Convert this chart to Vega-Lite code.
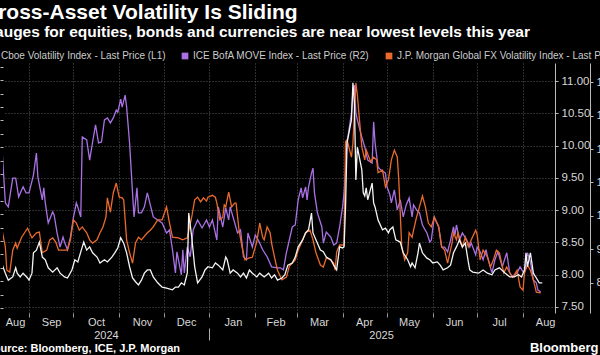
{
  "$schema": "https://vega.github.io/schema/vega-lite/v6.json",
  "width": 552,
  "height": 250,
  "autosize": {"type": "none"},
  "padding": {"left": 3, "top": 63, "right": 45, "bottom": 42},
  "background": "#000000",
  "title": {
    "text": "Cross-Asset Volatility Is Sliding",
    "subtitle": "Gauges for equities, bonds and currencies are near lowest levels this year",
    "anchor": "start",
    "frame": "group",
    "dx": -20,
    "offset": 11,
    "font": "Liberation Sans",
    "fontSize": 21,
    "fontWeight": "bold",
    "color": "#ffffff",
    "subtitleFont": "Liberation Sans",
    "subtitleFontSize": 15.5,
    "subtitleFontWeight": "bold",
    "subtitleColor": "#ffffff",
    "subtitlePadding": 2
  },
  "datasets": {
    "vix": [
      {"date": "2024-08-14", "value": 18.0}, {"date": "2024-08-16", "value": 16.5}, {"date": "2024-08-18", "value": 15.2},
      {"date": "2024-08-21", "value": 15.8}, {"date": "2024-08-23", "value": 17.5}, {"date": "2024-08-24", "value": 16.5},
      {"date": "2024-08-26", "value": 15.8}, {"date": "2024-08-28", "value": 16.5}, {"date": "2024-08-31", "value": 15.6},
      {"date": "2024-09-01", "value": 15.2}, {"date": "2024-09-03", "value": 16.5}, {"date": "2024-09-04", "value": 20.3},
      {"date": "2024-09-06", "value": 20.8}, {"date": "2024-09-08", "value": 22.3}, {"date": "2024-09-10", "value": 19.5},
      {"date": "2024-09-12", "value": 19.0}, {"date": "2024-09-14", "value": 17.5}, {"date": "2024-09-17", "value": 16.7},
      {"date": "2024-09-20", "value": 17.5}, {"date": "2024-09-22", "value": 16.5}, {"date": "2024-09-25", "value": 15.8},
      {"date": "2024-09-27", "value": 15.6}, {"date": "2024-09-30", "value": 17.1}, {"date": "2024-10-02", "value": 19.0},
      {"date": "2024-10-04", "value": 18.6}, {"date": "2024-10-07", "value": 21.4}, {"date": "2024-10-08", "value": 22.3},
      {"date": "2024-10-10", "value": 20.8}, {"date": "2024-10-12", "value": 21.4}, {"date": "2024-10-14", "value": 20.3},
      {"date": "2024-10-17", "value": 19.5}, {"date": "2024-10-19", "value": 18.4}, {"date": "2024-10-22", "value": 19.0},
      {"date": "2024-10-24", "value": 18.6}, {"date": "2024-10-27", "value": 19.5}, {"date": "2024-10-29", "value": 20.3},
      {"date": "2024-10-31", "value": 21.2}, {"date": "2024-11-02", "value": 23.1}, {"date": "2024-11-04", "value": 22.1},
      {"date": "2024-11-06", "value": 20.3}, {"date": "2024-11-08", "value": 17.7}, {"date": "2024-11-10", "value": 15.6},
      {"date": "2024-11-12", "value": 14.9}, {"date": "2024-11-14", "value": 14.3}, {"date": "2024-11-16", "value": 15.2},
      {"date": "2024-11-18", "value": 16.5}, {"date": "2024-11-20", "value": 17.1}, {"date": "2024-11-22", "value": 17.1},
      {"date": "2024-11-24", "value": 15.8}, {"date": "2024-11-27", "value": 14.7}, {"date": "2024-11-30", "value": 13.9},
      {"date": "2024-12-03", "value": 13.7}, {"date": "2024-12-07", "value": 13.4}, {"date": "2024-12-09", "value": 13.9},
      {"date": "2024-12-11", "value": 13.9}, {"date": "2024-12-13", "value": 14.7}, {"date": "2024-12-15", "value": 14.3},
      {"date": "2024-12-17", "value": 16.5}, {"date": "2024-12-18", "value": 27.7}, {"date": "2024-12-20", "value": 23.3},
      {"date": "2024-12-22", "value": 17.7}, {"date": "2024-12-24", "value": 14.7}, {"date": "2024-12-27", "value": 15.8},
      {"date": "2024-12-29", "value": 17.1}, {"date": "2024-12-31", "value": 17.7}, {"date": "2025-01-03", "value": 17.5},
      {"date": "2025-01-05", "value": 18.4}, {"date": "2025-01-07", "value": 18.0}, {"date": "2025-01-10", "value": 17.1},
      {"date": "2025-01-12", "value": 19.5}, {"date": "2025-01-13", "value": 19.0}, {"date": "2025-01-15", "value": 16.5},
      {"date": "2025-01-17", "value": 17.1}, {"date": "2025-01-20", "value": 16.5}, {"date": "2025-01-22", "value": 15.8},
      {"date": "2025-01-24", "value": 16.5}, {"date": "2025-01-26", "value": 15.6}, {"date": "2025-01-28", "value": 17.1},
      {"date": "2025-01-30", "value": 16.5}, {"date": "2025-02-02", "value": 15.8}, {"date": "2025-02-04", "value": 16.5},
      {"date": "2025-02-07", "value": 15.8}, {"date": "2025-02-10", "value": 16.5}, {"date": "2025-02-12", "value": 15.6},
      {"date": "2025-02-14", "value": 16.2}, {"date": "2025-02-16", "value": 15.2}, {"date": "2025-02-19", "value": 15.6},
      {"date": "2025-02-21", "value": 16.2}, {"date": "2025-02-23", "value": 18.0}, {"date": "2025-02-26", "value": 18.4},
      {"date": "2025-02-28", "value": 19.5}, {"date": "2025-03-02", "value": 21.4}, {"date": "2025-03-05", "value": 22.7},
      {"date": "2025-03-07", "value": 24.0}, {"date": "2025-03-09", "value": 24.6}, {"date": "2025-03-11", "value": 27.7},
      {"date": "2025-03-12", "value": 24.0}, {"date": "2025-03-15", "value": 22.1}, {"date": "2025-03-17", "value": 20.8},
      {"date": "2025-03-19", "value": 20.5}, {"date": "2025-03-21", "value": 19.5}, {"date": "2025-03-24", "value": 19.0},
      {"date": "2025-03-26", "value": 18.0}, {"date": "2025-03-28", "value": 17.1}, {"date": "2025-03-30", "value": 21.4},
      {"date": "2025-04-01", "value": 21.2}, {"date": "2025-04-02", "value": 21.4}, {"date": "2025-04-03", "value": 28.8},
      {"date": "2025-04-04", "value": 40.8}, {"date": "2025-04-07", "value": 45.1}, {"date": "2025-04-08", "value": 52.0},
      {"date": "2025-04-09", "value": 48.2}, {"date": "2025-04-10", "value": 33.9}, {"date": "2025-04-11", "value": 40.0},
      {"date": "2025-04-14", "value": 35.8}, {"date": "2025-04-15", "value": 31.5}, {"date": "2025-04-16", "value": 30.9},
      {"date": "2025-04-17", "value": 32.4}, {"date": "2025-04-18", "value": 30.2}, {"date": "2025-04-21", "value": 33.3},
      {"date": "2025-04-22", "value": 29.6}, {"date": "2025-04-23", "value": 28.8}, {"date": "2025-04-25", "value": 26.4},
      {"date": "2025-04-28", "value": 24.6}, {"date": "2025-04-30", "value": 24.9}, {"date": "2025-05-02", "value": 24.0},
      {"date": "2025-05-03", "value": 24.6}, {"date": "2025-05-05", "value": 25.1}, {"date": "2025-05-07", "value": 22.7},
      {"date": "2025-05-10", "value": 22.3}, {"date": "2025-05-12", "value": 20.3}, {"date": "2025-05-15", "value": 19.0},
      {"date": "2025-05-17", "value": 17.7}, {"date": "2025-05-18", "value": 18.4}, {"date": "2025-05-20", "value": 17.5},
      {"date": "2025-05-22", "value": 20.3}, {"date": "2025-05-23", "value": 22.1}, {"date": "2025-05-25", "value": 20.3},
      {"date": "2025-05-28", "value": 19.3}, {"date": "2025-05-30", "value": 19.0}, {"date": "2025-06-01", "value": 18.4},
      {"date": "2025-06-04", "value": 18.6}, {"date": "2025-06-06", "value": 18.0}, {"date": "2025-06-08", "value": 17.1},
      {"date": "2025-06-11", "value": 17.5}, {"date": "2025-06-13", "value": 18.0}, {"date": "2025-06-15", "value": 20.3},
      {"date": "2025-06-17", "value": 21.4}, {"date": "2025-06-19", "value": 22.7}, {"date": "2025-06-21", "value": 21.4},
      {"date": "2025-06-23", "value": 22.1}, {"date": "2025-06-25", "value": 18.6}, {"date": "2025-06-26", "value": 17.1},
      {"date": "2025-06-28", "value": 16.7}, {"date": "2025-07-02", "value": 16.5}, {"date": "2025-07-05", "value": 17.1},
      {"date": "2025-07-08", "value": 16.5}, {"date": "2025-07-11", "value": 16.2}, {"date": "2025-07-13", "value": 17.1},
      {"date": "2025-07-16", "value": 17.5}, {"date": "2025-07-20", "value": 16.5}, {"date": "2025-07-23", "value": 15.8},
      {"date": "2025-07-26", "value": 15.8}, {"date": "2025-07-29", "value": 16.2}, {"date": "2025-07-31", "value": 15.8},
      {"date": "2025-08-02", "value": 17.1}, {"date": "2025-08-03", "value": 20.3}, {"date": "2025-08-04", "value": 17.7},
      {"date": "2025-08-06", "value": 20.3}, {"date": "2025-08-08", "value": 16.5}, {"date": "2025-08-10", "value": 15.6},
      {"date": "2025-08-12", "value": 14.7}, {"date": "2025-08-14", "value": 14.7}
    ],
    "move": [
      {"date": "2024-08-14", "value": 118.2}, {"date": "2024-08-16", "value": 103.9}, {"date": "2024-08-18", "value": 102.7},
      {"date": "2024-08-21", "value": 111.3}, {"date": "2024-08-23", "value": 111.3}, {"date": "2024-08-25", "value": 105.7},
      {"date": "2024-08-28", "value": 108.7}, {"date": "2024-08-30", "value": 106.9}, {"date": "2024-09-01", "value": 106.9},
      {"date": "2024-09-04", "value": 112.2}, {"date": "2024-09-06", "value": 118.8}, {"date": "2024-09-07", "value": 111.6},
      {"date": "2024-09-10", "value": 104.8}, {"date": "2024-09-11", "value": 108.4}, {"date": "2024-09-12", "value": 103.9},
      {"date": "2024-09-14", "value": 97.9}, {"date": "2024-09-17", "value": 101.2}, {"date": "2024-09-18", "value": 100.3},
      {"date": "2024-09-20", "value": 94.9}, {"date": "2024-09-22", "value": 90.7}, {"date": "2024-09-24", "value": 93.7},
      {"date": "2024-09-25", "value": 92.2}, {"date": "2024-09-27", "value": 89.9}, {"date": "2024-09-29", "value": 93.7},
      {"date": "2024-10-01", "value": 99.4}, {"date": "2024-10-03", "value": 103.9}, {"date": "2024-10-04", "value": 102.7},
      {"date": "2024-10-06", "value": 99.7}, {"date": "2024-10-07", "value": 123.6}, {"date": "2024-10-10", "value": 122.7},
      {"date": "2024-10-12", "value": 116.7}, {"date": "2024-10-14", "value": 122.1}, {"date": "2024-10-16", "value": 127.2},
      {"date": "2024-10-18", "value": 121.8}, {"date": "2024-10-20", "value": 122.1}, {"date": "2024-10-22", "value": 128.7},
      {"date": "2024-10-24", "value": 129.3}, {"date": "2024-10-26", "value": 127.8}, {"date": "2024-10-28", "value": 129.3},
      {"date": "2024-10-30", "value": 131.6}, {"date": "2024-10-31", "value": 131.0}, {"date": "2024-11-02", "value": 134.9},
      {"date": "2024-11-03", "value": 132.5}, {"date": "2024-11-05", "value": 136.1}, {"date": "2024-11-06", "value": 132.5},
      {"date": "2024-11-08", "value": 121.8}, {"date": "2024-11-10", "value": 106.9}, {"date": "2024-11-11", "value": 99.7},
      {"date": "2024-11-13", "value": 108.4}, {"date": "2024-11-14", "value": 100.9}, {"date": "2024-11-16", "value": 100.9},
      {"date": "2024-11-18", "value": 102.7}, {"date": "2024-11-20", "value": 106.9}, {"date": "2024-11-24", "value": 99.7},
      {"date": "2024-11-27", "value": 98.8}, {"date": "2024-11-30", "value": 97.9}, {"date": "2024-12-03", "value": 94.9},
      {"date": "2024-12-05", "value": 95.8}, {"date": "2024-12-07", "value": 89.9}, {"date": "2024-12-09", "value": 83.0},
      {"date": "2024-12-10", "value": 89.3}, {"date": "2024-12-13", "value": 82.4}, {"date": "2024-12-14", "value": 89.9},
      {"date": "2024-12-15", "value": 83.0}, {"date": "2024-12-17", "value": 90.7}, {"date": "2024-12-19", "value": 87.8},
      {"date": "2024-12-21", "value": 95.8}, {"date": "2024-12-24", "value": 98.8}, {"date": "2024-12-27", "value": 96.4},
      {"date": "2024-12-30", "value": 98.8}, {"date": "2025-01-01", "value": 96.7}, {"date": "2025-01-03", "value": 98.8},
      {"date": "2025-01-06", "value": 92.8}, {"date": "2025-01-07", "value": 102.7}, {"date": "2025-01-10", "value": 96.7},
      {"date": "2025-01-12", "value": 102.4}, {"date": "2025-01-14", "value": 98.8}, {"date": "2025-01-15", "value": 102.7},
      {"date": "2025-01-20", "value": 94.9}, {"date": "2025-01-22", "value": 95.8}, {"date": "2025-01-24", "value": 87.8},
      {"date": "2025-01-26", "value": 86.9}, {"date": "2025-01-27", "value": 94.9}, {"date": "2025-01-30", "value": 90.7},
      {"date": "2025-02-01", "value": 94.3}, {"date": "2025-02-03", "value": 92.8}, {"date": "2025-02-06", "value": 89.9},
      {"date": "2025-02-09", "value": 87.8}, {"date": "2025-02-12", "value": 84.8}, {"date": "2025-02-16", "value": 84.5},
      {"date": "2025-02-18", "value": 84.5}, {"date": "2025-02-20", "value": 83.9}, {"date": "2025-02-22", "value": 89.0},
      {"date": "2025-02-26", "value": 96.7}, {"date": "2025-02-28", "value": 97.3}, {"date": "2025-03-02", "value": 104.8},
      {"date": "2025-03-04", "value": 108.4}, {"date": "2025-03-05", "value": 105.4}, {"date": "2025-03-07", "value": 108.7},
      {"date": "2025-03-08", "value": 104.8}, {"date": "2025-03-09", "value": 108.7}, {"date": "2025-03-11", "value": 112.8},
      {"date": "2025-03-12", "value": 114.3}, {"date": "2025-03-13", "value": 106.9}, {"date": "2025-03-15", "value": 100.9},
      {"date": "2025-03-18", "value": 96.7}, {"date": "2025-03-19", "value": 91.9}, {"date": "2025-03-21", "value": 95.2},
      {"date": "2025-03-24", "value": 93.7}, {"date": "2025-03-26", "value": 91.3}, {"date": "2025-03-28", "value": 91.9},
      {"date": "2025-03-30", "value": 96.7}, {"date": "2025-04-01", "value": 102.7}, {"date": "2025-04-02", "value": 106.9},
      {"date": "2025-04-03", "value": 112.8}, {"date": "2025-04-04", "value": 121.8}, {"date": "2025-04-07", "value": 130.7},
      {"date": "2025-04-08", "value": 136.7}, {"date": "2025-04-09", "value": 139.1}, {"date": "2025-04-10", "value": 130.7},
      {"date": "2025-04-11", "value": 128.7}, {"date": "2025-04-14", "value": 123.6}, {"date": "2025-04-16", "value": 120.6},
      {"date": "2025-04-18", "value": 116.7}, {"date": "2025-04-21", "value": 115.8}, {"date": "2025-04-22", "value": 128.1},
      {"date": "2025-04-23", "value": 121.8}, {"date": "2025-04-25", "value": 114.6}, {"date": "2025-04-27", "value": 113.7},
      {"date": "2025-04-30", "value": 112.8}, {"date": "2025-05-01", "value": 108.7}, {"date": "2025-05-03", "value": 106.3},
      {"date": "2025-05-04", "value": 103.9}, {"date": "2025-05-06", "value": 107.8}, {"date": "2025-05-08", "value": 101.8},
      {"date": "2025-05-10", "value": 104.8}, {"date": "2025-05-12", "value": 99.7}, {"date": "2025-05-14", "value": 103.3},
      {"date": "2025-05-16", "value": 105.4}, {"date": "2025-05-18", "value": 99.7}, {"date": "2025-05-19", "value": 103.3},
      {"date": "2025-05-21", "value": 101.8}, {"date": "2025-05-23", "value": 100.9}, {"date": "2025-05-25", "value": 97.3},
      {"date": "2025-05-28", "value": 94.9}, {"date": "2025-05-30", "value": 92.2}, {"date": "2025-05-31", "value": 92.8},
      {"date": "2025-06-02", "value": 99.7}, {"date": "2025-06-05", "value": 96.7}, {"date": "2025-06-07", "value": 90.7},
      {"date": "2025-06-09", "value": 90.7}, {"date": "2025-06-11", "value": 89.3}, {"date": "2025-06-13", "value": 92.8},
      {"date": "2025-06-15", "value": 96.7}, {"date": "2025-06-16", "value": 94.3}, {"date": "2025-06-17", "value": 97.3},
      {"date": "2025-06-19", "value": 92.8}, {"date": "2025-06-21", "value": 94.9}, {"date": "2025-06-24", "value": 92.8},
      {"date": "2025-06-26", "value": 90.7}, {"date": "2025-06-27", "value": 91.9}, {"date": "2025-06-30", "value": 88.4},
      {"date": "2025-07-01", "value": 90.7}, {"date": "2025-07-03", "value": 89.3}, {"date": "2025-07-05", "value": 86.9},
      {"date": "2025-07-07", "value": 89.9}, {"date": "2025-07-08", "value": 87.8}, {"date": "2025-07-11", "value": 83.0},
      {"date": "2025-07-13", "value": 86.9}, {"date": "2025-07-15", "value": 89.3}, {"date": "2025-07-18", "value": 84.8},
      {"date": "2025-07-21", "value": 89.0}, {"date": "2025-07-23", "value": 83.0}, {"date": "2025-07-25", "value": 81.8},
      {"date": "2025-07-28", "value": 83.0}, {"date": "2025-07-30", "value": 84.8}, {"date": "2025-08-01", "value": 83.3},
      {"date": "2025-08-02", "value": 83.0}, {"date": "2025-08-04", "value": 89.0}, {"date": "2025-08-06", "value": 86.3},
      {"date": "2025-08-08", "value": 80.9}, {"date": "2025-08-10", "value": 80.0}, {"date": "2025-08-11", "value": 77.9},
      {"date": "2025-08-13", "value": 77.3}
    ],
    "fx": [
      {"date": "2024-08-14", "value": 8.66}, {"date": "2024-08-16", "value": 8.43}, {"date": "2024-08-17", "value": 8.07},
      {"date": "2024-08-19", "value": 8.04}, {"date": "2024-08-21", "value": 8.38}, {"date": "2024-08-23", "value": 8.49},
      {"date": "2024-08-24", "value": 8.41}, {"date": "2024-08-27", "value": 8.58}, {"date": "2024-08-31", "value": 8.72},
      {"date": "2024-09-03", "value": 8.57}, {"date": "2024-09-06", "value": 8.65}, {"date": "2024-09-08", "value": 8.66},
      {"date": "2024-09-10", "value": 8.34}, {"date": "2024-09-13", "value": 8.38}, {"date": "2024-09-15", "value": 8.54},
      {"date": "2024-09-17", "value": 8.57}, {"date": "2024-09-19", "value": 8.51}, {"date": "2024-09-21", "value": 8.38},
      {"date": "2024-09-24", "value": 8.38}, {"date": "2024-09-27", "value": 8.38}, {"date": "2024-09-29", "value": 8.54},
      {"date": "2024-10-01", "value": 8.85}, {"date": "2024-10-03", "value": 8.80}, {"date": "2024-10-05", "value": 8.69},
      {"date": "2024-10-07", "value": 8.74}, {"date": "2024-10-10", "value": 8.65}, {"date": "2024-10-12", "value": 8.54},
      {"date": "2024-10-14", "value": 8.49}, {"date": "2024-10-17", "value": 8.54}, {"date": "2024-10-19", "value": 8.65},
      {"date": "2024-10-21", "value": 8.74}, {"date": "2024-10-23", "value": 8.89}, {"date": "2024-10-24", "value": 9.19},
      {"date": "2024-10-26", "value": 8.97}, {"date": "2024-10-28", "value": 9.27}, {"date": "2024-10-30", "value": 9.42},
      {"date": "2024-11-01", "value": 9.20}, {"date": "2024-11-03", "value": 9.19}, {"date": "2024-11-04", "value": 9.16},
      {"date": "2024-11-06", "value": 8.54}, {"date": "2024-11-08", "value": 8.34}, {"date": "2024-11-10", "value": 8.18},
      {"date": "2024-11-12", "value": 8.49}, {"date": "2024-11-14", "value": 8.58}, {"date": "2024-11-16", "value": 8.54},
      {"date": "2024-11-20", "value": 8.65}, {"date": "2024-11-22", "value": 8.69}, {"date": "2024-11-24", "value": 8.74},
      {"date": "2024-11-27", "value": 8.85}, {"date": "2024-11-30", "value": 8.85}, {"date": "2024-12-03", "value": 9.05},
      {"date": "2024-12-05", "value": 8.80}, {"date": "2024-12-07", "value": 8.58}, {"date": "2024-12-11", "value": 8.57},
      {"date": "2024-12-14", "value": 8.54}, {"date": "2024-12-17", "value": 8.57}, {"date": "2024-12-20", "value": 8.89},
      {"date": "2024-12-22", "value": 9.16}, {"date": "2024-12-24", "value": 9.20}, {"date": "2024-12-26", "value": 9.13},
      {"date": "2024-12-28", "value": 9.19}, {"date": "2024-12-30", "value": 9.14}, {"date": "2024-12-31", "value": 9.20},
      {"date": "2025-01-03", "value": 9.23}, {"date": "2025-01-05", "value": 9.20}, {"date": "2025-01-06", "value": 9.11},
      {"date": "2025-01-08", "value": 8.85}, {"date": "2025-01-10", "value": 8.89}, {"date": "2025-01-11", "value": 9.08},
      {"date": "2025-01-12", "value": 9.05}, {"date": "2025-01-14", "value": 9.28}, {"date": "2025-01-16", "value": 9.05},
      {"date": "2025-01-18", "value": 9.11}, {"date": "2025-01-19", "value": 9.11}, {"date": "2025-01-21", "value": 8.69},
      {"date": "2025-01-23", "value": 8.43}, {"date": "2025-01-25", "value": 8.23}, {"date": "2025-01-28", "value": 8.26},
      {"date": "2025-01-30", "value": 8.27}, {"date": "2025-02-02", "value": 8.51}, {"date": "2025-02-04", "value": 8.80},
      {"date": "2025-02-06", "value": 8.58}, {"date": "2025-02-07", "value": 8.54}, {"date": "2025-02-09", "value": 8.74},
      {"date": "2025-02-11", "value": 8.65}, {"date": "2025-02-12", "value": 8.49}, {"date": "2025-02-14", "value": 8.27},
      {"date": "2025-02-16", "value": 8.07}, {"date": "2025-02-19", "value": 7.92}, {"date": "2025-02-21", "value": 7.95},
      {"date": "2025-02-22", "value": 7.96}, {"date": "2025-02-24", "value": 8.13}, {"date": "2025-02-28", "value": 8.23},
      {"date": "2025-03-02", "value": 8.38}, {"date": "2025-03-05", "value": 8.54}, {"date": "2025-03-07", "value": 8.65},
      {"date": "2025-03-10", "value": 8.69}, {"date": "2025-03-12", "value": 8.54}, {"date": "2025-03-14", "value": 8.34},
      {"date": "2025-03-17", "value": 8.15}, {"date": "2025-03-19", "value": 8.12}, {"date": "2025-03-21", "value": 8.26},
      {"date": "2025-03-24", "value": 8.23}, {"date": "2025-03-26", "value": 8.18}, {"date": "2025-03-27", "value": 8.07},
      {"date": "2025-03-28", "value": 8.35}, {"date": "2025-03-30", "value": 8.46}, {"date": "2025-04-02", "value": 8.46},
      {"date": "2025-04-03", "value": 10.06}, {"date": "2025-04-04", "value": 10.09}, {"date": "2025-04-07", "value": 9.82},
      {"date": "2025-04-08", "value": 10.04}, {"date": "2025-04-09", "value": 10.50}, {"date": "2025-04-10", "value": 10.97},
      {"date": "2025-04-11", "value": 10.78}, {"date": "2025-04-14", "value": 9.98}, {"date": "2025-04-16", "value": 9.78},
      {"date": "2025-04-17", "value": 9.93}, {"date": "2025-04-20", "value": 9.75}, {"date": "2025-04-22", "value": 9.82},
      {"date": "2025-04-24", "value": 9.78}, {"date": "2025-04-25", "value": 9.58}, {"date": "2025-04-28", "value": 9.62},
      {"date": "2025-04-30", "value": 9.36}, {"date": "2025-05-02", "value": 9.47}, {"date": "2025-05-04", "value": 9.78},
      {"date": "2025-05-06", "value": 9.93}, {"date": "2025-05-08", "value": 9.82}, {"date": "2025-05-09", "value": 9.47},
      {"date": "2025-05-10", "value": 8.96}, {"date": "2025-05-11", "value": 8.43}, {"date": "2025-05-13", "value": 8.23},
      {"date": "2025-05-15", "value": 8.34}, {"date": "2025-05-16", "value": 8.65}, {"date": "2025-05-18", "value": 8.58},
      {"date": "2025-05-19", "value": 8.69}, {"date": "2025-05-21", "value": 8.89}, {"date": "2025-05-23", "value": 9.05},
      {"date": "2025-05-25", "value": 9.22}, {"date": "2025-05-27", "value": 9.05}, {"date": "2025-05-29", "value": 8.80},
      {"date": "2025-05-31", "value": 8.74}, {"date": "2025-06-02", "value": 8.89}, {"date": "2025-06-05", "value": 8.74},
      {"date": "2025-06-07", "value": 8.43}, {"date": "2025-06-09", "value": 8.38}, {"date": "2025-06-11", "value": 8.18},
      {"date": "2025-06-14", "value": 8.49}, {"date": "2025-06-15", "value": 8.65}, {"date": "2025-06-17", "value": 8.54},
      {"date": "2025-06-18", "value": 8.65}, {"date": "2025-06-21", "value": 8.43}, {"date": "2025-06-23", "value": 8.58},
      {"date": "2025-06-25", "value": 8.43}, {"date": "2025-06-27", "value": 8.54}, {"date": "2025-06-30", "value": 8.69},
      {"date": "2025-07-01", "value": 8.62}, {"date": "2025-07-03", "value": 8.23}, {"date": "2025-07-05", "value": 8.38},
      {"date": "2025-07-08", "value": 8.27}, {"date": "2025-07-10", "value": 8.12}, {"date": "2025-07-12", "value": 8.23},
      {"date": "2025-07-14", "value": 8.38}, {"date": "2025-07-16", "value": 8.34}, {"date": "2025-07-19", "value": 8.03},
      {"date": "2025-07-21", "value": 8.12}, {"date": "2025-07-23", "value": 8.03}, {"date": "2025-07-25", "value": 7.96},
      {"date": "2025-07-28", "value": 8.07}, {"date": "2025-07-30", "value": 7.81}, {"date": "2025-08-01", "value": 7.76},
      {"date": "2025-08-02", "value": 8.03}, {"date": "2025-08-04", "value": 8.15}, {"date": "2025-08-06", "value": 8.07},
      {"date": "2025-08-08", "value": 7.92}, {"date": "2025-08-10", "value": 7.73}, {"date": "2025-08-13", "value": 7.72}
    ]
  },
  "layer": [
    {
      "data": {"name": "move"},
      "mark": {"type": "line", "strokeWidth": 1.3, "clip": true},
      "encoding": {
        "x": {
          "field": "date", "type": "temporal",
          "scale": {"type": "utc", "nice": false, "domain": [{"year": 2024, "month": 8, "date": 14, "hours": 10, "utc": true}, {"year": 2025, "month": 8, "date": 22, "hours": 15, "utc": true}]},
          "axis": {
            "orient": "bottom", "offset": 15, "domain": false, "grid": false, "title": null,
            "values": [{"year": 2024, "month": 10, "date": 23, "utc": true}, {"year": 2025, "month": 1, "date": 1, "utc": true}, {"year": 2025, "month": 4, "date": 27, "utc": true}],
            "labelExpr": "utcmonth(datum.value) == 0 ? '' : utcFormat(datum.value, '%Y')",
            "tickSize": 12, "tickColor": "#aaaaaa",
            "tickOpacity": {"condition": {"test": "utcmonth(datum.value) == 0", "value": 1}, "value": 0},
            "labelPadding": -11, "labelFont": "Liberation Sans", "labelFontSize": 11, "labelColor": "#d8d8d8"
          }
        },
        "y": {
          "field": "value", "type": "quantitative",
          "scale": {"domain": [71.0, 145.7], "nice": false, "zero": false},
          "axis": {
            "orient": "right", "offset": 35, "title": null, "grid": false,
            "values": [80, 90, 100, 110, 120, 130, 140], "format": ".0f",
            "domainColor": "#bbbbbb", "tickColor": "#bbbbbb", "tickSize": 3, "labelPadding": 3,
            "labelFont": "Liberation Sans", "labelFontSize": 11.5, "labelColor": "#d8d8d8"
          }
        },
        "color": {
          "datum": "ICE BofA MOVE Index - Last Price (R2)", "type": "nominal",
          "scale": {"domain": ["Cboe Volatility Index - Last Price (L1)", "ICE BofA MOVE Index - Last Price (R2)", "J.P. Morgan Global FX Volatility Index - Last Price (R1)"], "range": ["#f4f4f4", "#a971e4", "#ea6a2c"]},
          "legend": {"orient": "none", "legendX": -15, "legendY": -12, "direction": "horizontal", "title": null, "symbolType": "square", "symbolSize": 45, "symbolStrokeWidth": 0, "labelFont": "Liberation Sans", "labelFontSize": 10, "labelColor": "#cccccc", "labelLimit": 400, "columnPadding": 14, "labelOffset": 3, "encode": {"symbols": {"update": {"fill": {"scale": "color", "field": "value"}, "fillOpacity": {"value": 1}}}}}
        }
      }
    },
    {
      "data": {"name": "fx"},
      "mark": {"type": "line", "strokeWidth": 1.3, "clip": true},
      "encoding": {
        "x": {
          "field": "date", "type": "temporal",
          "scale": {"type": "utc", "nice": false, "domain": [{"year": 2024, "month": 8, "date": 14, "hours": 10, "utc": true}, {"year": 2025, "month": 8, "date": 22, "hours": 15, "utc": true}]},
          "axis": {
            "orient": "bottom", "domain": false, "grid": false, "ticks": false, "tickSize": 0,
            "values": [
              {"year": 2024, "month": 8, "date": 22, "hours": 12, "utc": true}, {"year": 2024, "month": 9, "date": 15, "hours": 22, "utc": true},
              {"year": 2024, "month": 10, "date": 16, "hours": 7, "utc": true}, {"year": 2024, "month": 11, "date": 16, "hours": 10, "utc": true},
              {"year": 2024, "month": 12, "date": 16, "hours": 5, "utc": true}, {"year": 2025, "month": 1, "date": 16, "hours": 22, "utc": true},
              {"year": 2025, "month": 2, "date": 14, "hours": 17, "utc": true}, {"year": 2025, "month": 3, "date": 16, "hours": 2, "utc": true},
              {"year": 2025, "month": 4, "date": 15, "hours": 12, "utc": true}, {"year": 2025, "month": 5, "date": 15, "hours": 22, "utc": true},
              {"year": 2025, "month": 6, "date": 15, "hours": 10, "utc": true}, {"year": 2025, "month": 7, "date": 15, "hours": 19, "utc": true},
              {"year": 2025, "month": 8, "date": 15, "hours": 22, "utc": true}
            ],
            "format": "%b", "labelPadding": 3, "labelFont": "Liberation Sans", "labelFontSize": 11, "labelColor": "#d8d8d8",
            "labelFlush": false, "labelOverlap": false,
            "title": "Bloomberg", "titleFont": "Liberation Sans", "titleFontSize": 13, "titleFontWeight": "bold", "titleColor": "#ffffff",
            "titleAnchor": "end", "titleAlign": "right", "titleBaseline": "alphabetic", "titleX": 595, "titleY": 38
          }
        },
        "y": {
          "field": "value", "type": "quantitative",
          "scale": {"domain": [7.407, 11.279], "nice": false, "zero": false},
          "axis": {
            "orient": "right", "title": null, "grid": true, "gridColor": "#5a5a5a", "gridDash": [1, 2], "gridWidth": 1,
            "values": [7.5, 8, 8.5, 9, 9.5, 10, 10.5, 11], "format": ".2f",
            "domainColor": "#bbbbbb", "tickColor": "#bbbbbb", "tickSize": 3, "labelPadding": 3,
            "labelFont": "Liberation Sans", "labelFontSize": 11.5, "labelColor": "#d8d8d8"
          }
        },
        "color": {
          "datum": "J.P. Morgan Global FX Volatility Index - Last Price (R1)", "type": "nominal",
          "scale": {"domain": ["Cboe Volatility Index - Last Price (L1)", "ICE BofA MOVE Index - Last Price (R2)", "J.P. Morgan Global FX Volatility Index - Last Price (R1)"], "range": ["#f4f4f4", "#a971e4", "#ea6a2c"]},
          "legend": {"orient": "none", "legendX": -15, "legendY": -12, "direction": "horizontal", "title": null, "symbolType": "square", "symbolSize": 45, "symbolStrokeWidth": 0, "labelFont": "Liberation Sans", "labelFontSize": 10, "labelColor": "#cccccc", "labelLimit": 400, "columnPadding": 14, "labelOffset": 3, "encode": {"symbols": {"update": {"fill": {"scale": "color", "field": "value"}, "fillOpacity": {"value": 1}}}}}
        }
      }
    },
    {
      "data": {"name": "vix"},
      "mark": {"type": "line", "strokeWidth": 1.3, "clip": true},
      "encoding": {
        "x": {
          "field": "date", "type": "temporal",
          "scale": {"type": "utc", "nice": false, "domain": [{"year": 2024, "month": 8, "date": 14, "hours": 10, "utc": true}, {"year": 2025, "month": 8, "date": 22, "hours": 15, "utc": true}]},
          "axis": {
            "orient": "bottom", "domain": false, "labels": false, "grid": true, "gridColor": "#5a5a5a", "gridDash": [1, 2], "gridWidth": 1,
            "tickSize": 4, "tickColor": "#9a9a9a",
            "values": [
              {"year": 2024, "month": 9, "date": 1, "utc": true}, {"year": 2024, "month": 10, "date": 1, "utc": true},
              {"year": 2024, "month": 11, "date": 1, "utc": true}, {"year": 2024, "month": 12, "date": 1, "utc": true},
              {"year": 2025, "month": 1, "date": 1, "utc": true}, {"year": 2025, "month": 2, "date": 1, "utc": true},
              {"year": 2025, "month": 3, "date": 1, "utc": true}, {"year": 2025, "month": 4, "date": 1, "utc": true},
              {"year": 2025, "month": 5, "date": 1, "utc": true}, {"year": 2025, "month": 6, "date": 1, "utc": true},
              {"year": 2025, "month": 7, "date": 1, "utc": true}, {"year": 2025, "month": 8, "date": 1, "utc": true}
            ],
            "title": "Source: Bloomberg, ICE, J.P. Morgan", "titleFont": "Liberation Sans", "titleFontSize": 11, "titleFontWeight": "bold", "titleColor": "#ffffff",
            "titleAnchor": "start", "titleAlign": "left", "titleBaseline": "alphabetic", "titleX": -17, "titleY": 38
          }
        },
        "y": {
          "field": "value", "type": "quantitative",
          "scale": {"domain": [9.07, 55.7], "nice": false, "zero": false},
          "axis": {
            "orient": "left", "title": null, "grid": false, "labels": false, "domain": false,
            "values": [10, 12.5, 15, 17.5, 20, 22.5, 25, 27.5, 30, 32.5, 35, 37.5, 40, 42.5, 45, 47.5, 50, 52.5, 55],
            "tickColor": "#bbbbbb", "tickSize": 3
          }
        },
        "color": {
          "datum": "Cboe Volatility Index - Last Price (L1)", "type": "nominal",
          "scale": {"domain": ["Cboe Volatility Index - Last Price (L1)", "ICE BofA MOVE Index - Last Price (R2)", "J.P. Morgan Global FX Volatility Index - Last Price (R1)"], "range": ["#f4f4f4", "#a971e4", "#ea6a2c"]},
          "legend": {"orient": "none", "legendX": -15, "legendY": -12, "direction": "horizontal", "title": null, "symbolType": "square", "symbolSize": 45, "symbolStrokeWidth": 0, "labelFont": "Liberation Sans", "labelFontSize": 10, "labelColor": "#cccccc", "labelLimit": 400, "columnPadding": 14, "labelOffset": 3, "encode": {"symbols": {"update": {"fill": {"scale": "color", "field": "value"}, "fillOpacity": {"value": 1}}}}}
        }
      }
    }
  ],
  "resolve": {"scale": {"y": "independent"}, "axis": {"x": "independent", "y": "independent"}},
  "config": {
    "view": {"stroke": null},
    "font": "Liberation Sans"
  }
}
